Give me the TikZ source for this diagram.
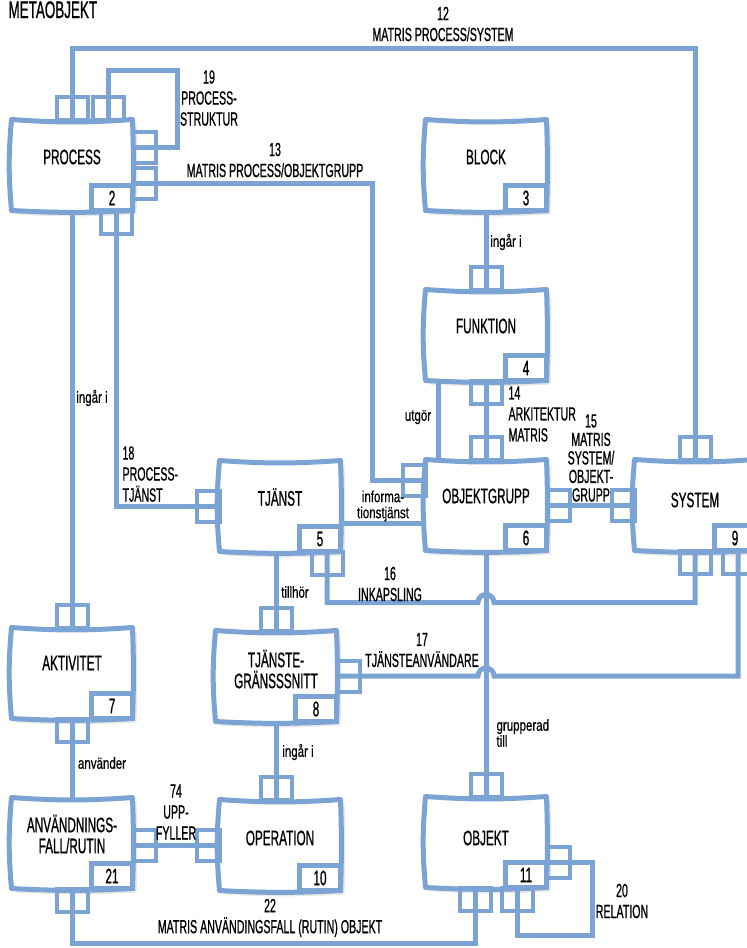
\documentclass[tikz,border=0pt]{standalone}
\usepackage{fontspec}
\setmainfont{Liberation Sans}[FakeStretch=0.56, FakeBold=0.8]
\newfontfamily\smfont{Liberation Sans}[FakeStretch=0.72, FakeBold=0.6]
\usetikzlibrary{shadows,backgrounds}
\definecolor{metablue}{HTML}{7BA3D4}

\begin{document}
\begin{tikzpicture}[x=1pt, y=-1pt,
    box/.style={minimum width=121pt, minimum height=91pt, inner sep=0pt, outer sep=0pt},
    boxtext/.style={font=\fontsize{21}{21}\selectfont, align=center},
    num/.style={draw=metablue, line width=4.5pt, fill=white, minimum width=41pt, minimum height=25pt,
                inner sep=0pt, outer sep=0pt, font=\fontsize{21}{21}\selectfont},
    boxedge/.style={draw=metablue, line width=5pt, fill=white, line join=round, line cap=round,
                drop shadow={opacity=0.18, shadow xshift=4pt, shadow yshift=-4pt}},
    link/.style={draw=metablue, line width=5pt},
    vfork/.style={draw=metablue, line width=4pt, minimum width=31pt, minimum height=23pt, inner sep=0pt, outer sep=0pt},
    hfork/.style={draw=metablue, line width=4pt, minimum width=23pt, minimum height=31pt, inner sep=0pt, outer sep=0pt},
    lab/.style={font=\fontsize{19}{21}\selectfont, align=center},
    rel/.style={font=\smfont\fontsize{16}{16}\selectfont, align=center}]
  \useasboundingbox (0,0) rectangle (747,948);

  \node[font=\fontsize{24}{24}\selectfont, anchor=base west] (title) at (5,18) {METAOBJEKT};

  % boxes
  \node[box] (process)     at (72,165)  {};
  \node[box] (block)       at (486,165) {};
  \node[box] (funktion)    at (486,335) {};
  \node[box] (tjanst)      at (280,506) {};
  \node[box] (objektgrupp) at (486,505) {};
  \node[box] (system)      at (695,505) {};
  \node[box] (aktivitet)   at (72,673)  {};
  \node[box] (tjg)         at (276,676) {};
  \node[box] (anv)         at (72,843)  {};
  \node[box] (operation)   at (280,845) {};
  \node[box] (objekt)      at (486,842) {};

  \begin{scope}[on background layer]
    \foreach \b in {process,block,funktion,tjanst,objektgrupp,system,aktivitet,tjg,anv,operation,objekt}
      \path[boxedge] (\b.north west) to[bend right=4] (\b.north east) to[bend left=2] (\b.south east)
        to[bend left=3] (\b.south west) to[bend left=5] (\b.north west);
  \end{scope}

  \node[boxtext] (process-t)     at ([yshift=8pt]process)     {PROCESS};
  \node[boxtext] (block-t)       at ([yshift=8pt]block)       {BLOCK};
  \node[boxtext] (funktion-t)    at ([yshift=9pt]funktion)    {FUNKTION};
  \node[boxtext] (tjanst-t)      at ([yshift=9pt]tjanst)      {TJÄNST};
  \node[boxtext] (objektgrupp-t) at ([yshift=9pt]objektgrupp) {OBJEKTGRUPP};
  \node[boxtext] (system-t)      at ([yshift=5pt]system)      {SYSTEM};
  \node[boxtext] (aktivitet-t)   at ([yshift=10pt]aktivitet)  {AKTIVITET};
  \node[boxtext] (tjg-t)         at ([yshift=7pt]tjg)         {TJÄNSTE-\\GRÄNSSSNITT};
  \node[boxtext] (anv-t)         at ([yshift=9pt]anv)         {ANVÄNDNINGS-\\FALL/RUTIN};
  \node[boxtext] (operation-t)   at ([yshift=7pt]operation)   {OPERATION};
  \node[boxtext] (objekt-t)      at ([yshift=4pt]objekt)      {OBJEKT};

  \node[num, anchor=south east] (process-n)     at (process.south east)     {2};
  \node[num, anchor=south east] (block-n)       at (block.south east)       {3};
  \node[num, anchor=south east] (funktion-n)    at (funktion.south east)    {4};
  \node[num, anchor=south east] (tjanst-n)      at (tjanst.south east)      {5};
  \node[num, anchor=south east] (objektgrupp-n) at (objektgrupp.south east) {6};
  \node[num, anchor=south east] (system-n)      at (system.south east)      {9};
  \node[num, anchor=south east] (aktivitet-n)   at (aktivitet.south east)   {7};
  \node[num, anchor=south east] (tjg-n)         at (tjg.south east)         {8};
  \node[num, anchor=south east] (anv-n)         at (anv.south east)         {21};
  \node[num, anchor=south east] (operation-n)   at (operation.south east)   {10};
  \node[num, anchor=south east] (objekt-n)      at (objekt.south east)      {11};

  % connectors
  \coordinate (info)  at ([yshift=-17pt]tjanst.east);
  \coordinate (hop16) at ([yshift=-52pt]objektgrupp.south);
  \coordinate (hop17) at (objektgrupp.south |- tjg.east);
  \coordinate (optop) at (tjg.south |- operation.north);
  \coordinate (anvr)  at (operation.west -| anv.east);

  \draw[link] (process.north) |- (443,48) -| (system.north);
  \draw[link] ([xshift=36pt]process.north) |- (177,70) |- ([yshift=18pt]process.east);
  \draw[link] ([yshift=-18pt]process.east) -| (372,480) -- ([yshift=25pt]objektgrupp.west);
  \draw[link] ([xshift=44pt]process.south) |- (tjanst.west);
  \draw[link] (process.south) -- (aktivitet.north);
  \draw[link] (block.south) -- (funktion.north);
  \draw[link] (funktion.south) -- (objektgrupp.north);
  \draw[link] ([xshift=-48pt]funktion.south) -- ([xshift=-48pt]objektgrupp.north);
  \draw[link] (objektgrupp.east) -- (system.west);
  \draw[link] (info) -- (info -| objektgrupp.west);
  \draw[link] (tjanst.south -| tjg.north) -- (tjg.north);
  \draw[link] (objektgrupp.south) -- (objekt.north);
  \draw[link] ([xshift=47pt]tjanst.south) |- ([xshift=-8pt]hop16)
    arc[start angle=180, end angle=0, radius=8pt] -| (system.south);
  \draw[link] (tjg.east) -- ([xshift=-8pt]hop17)
    arc[start angle=180, end angle=0, radius=8pt] -| ([xshift=43pt]system.south);
  \draw[link] (aktivitet.south) -- (anv.north);
  \draw[link] (tjg.south) -- (optop);
  \draw[link] (anvr) -- (operation.west);
  \draw[link] (anv.south) |- (475,943) -- ([xshift=-11pt]objekt.south);
  \draw[link] ([xshift=31pt]objekt.south) |- (592,935) |- ([yshift=-20pt]objekt.east);

  % forks
  \foreach \p/\s [count=\i] in {process.north/0pt, process.north/36pt, system.north/0pt, aktivitet.north/0pt,
      funktion.north/0pt, objektgrupp.north/0pt, tjg.north/0pt, optop/0pt, objekt.north/0pt}
    \node[vfork, anchor=south] (ft\i) at ([xshift=\s]\p) {};
  \foreach \p/\s [count=\i] in {process.south/44pt, funktion.south/0pt, tjanst.south/47pt,
      system.south/0pt, system.south/43pt, aktivitet.south/0pt, anv.south/0pt,
      objekt.south/-11pt, objekt.south/31pt}
    \node[vfork, anchor=north] (fb\i) at ([xshift=\s]\p) {};
  \foreach \p/\s [count=\i] in {process.east/18pt, process.east/-18pt, objektgrupp.east/0pt,
      tjg.east/0pt, anvr/0pt, objekt.east/-20pt}
    \node[hfork, anchor=west] (fr\i) at ([yshift=\s]\p) {};
  \foreach \p/\s [count=\i] in {objektgrupp.west/25pt, tjanst.west/0pt, system.west/0pt, operation.west/0pt}
    \node[hfork, anchor=east] (fl\i) at ([yshift=\s]\p) {};

  % labels
  \node[lab] (l12) at (443,24)  {12\\MATRIS PROCESS/SYSTEM};
  \node[lab] (l19) at (209,98)  {19\\PROCESS-\\STRUKTUR};
  \node[lab] (l13) at (275,160) {13\\MATRIS PROCESS/OBJEKTGRUPP};
  \node[lab, align=left, anchor=west] (l14) at (505,414) {14\\ARKITEKTUR\\MATRIS};
  \node[lab, font=\fontsize{19}{18.5}\selectfont] (l15) at (591,458) {15\\MATRIS\\SYSTEM/\\OBJEKT-\\GRUPP};
  \node[lab, align=left, anchor=west] (l18) at (119,474) {18\\PROCESS-\\TJÄNST};
  \node[lab] (l16) at (390,584) {16\\INKAPSLING};
  \node[lab] (l17) at (422,650) {17\\TJÄNSTEANVÄNDARE};
  \node[lab] (l74) at (176,812) {74\\UPP-\\FYLLER};
  \node[lab] (l22) at (270,918) {22\\MATRIS ANVÄNDINGSFALL (RUTIN) OBJEKT};
  \node[lab] (l20) at (622,901) {20\\RELATION};

  \node[rel] (ingar-a)  at (92,398)  {ingår i};
  \node[rel] (ingar-b)  at (506,242) {ingår i};
  \node[rel] (ingar-c)  at (298,752) {ingår i};
  \node[rel] (utgor)    at (418,417) {utgör};
  \node[rel] (tillhor)  at (295,592) {tillhör};
  \node[rel] (anvander) at (102,763) {använder};
  \node[rel] (infotj)   at (383,506) {informa-\\tionstjänst};
  \node[rel, align=left, anchor=west] (grupp) at (493,733) {grupperad\\till};
\end{tikzpicture}
\end{document}
